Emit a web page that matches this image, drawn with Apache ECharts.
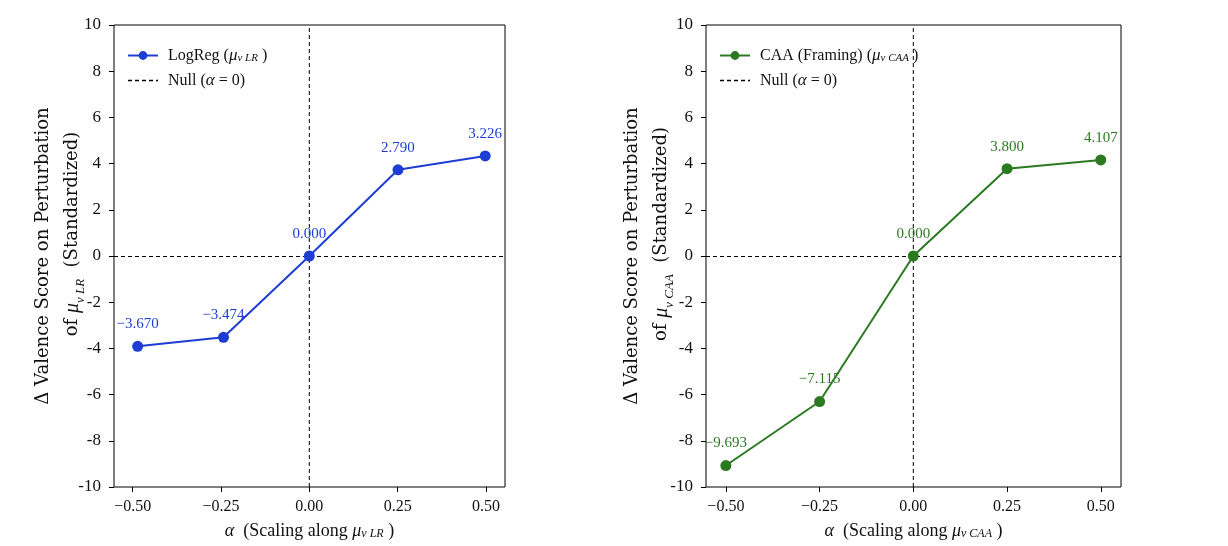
<!DOCTYPE html>
<html><head><meta charset="utf-8">
<script src="https://cdn.jsdelivr.net/npm/echarts@6/dist/echarts.min.js"></script>
<style>html,body{margin:0;padding:0;background:#fff}#c{width:1228px;height:546px}</style>
</head><body><div id="c"></div>
<script>
// ---- data ----
const alphaLR = [-0.486, -0.243, 0, 0.251, 0.498];
const valenceLR = [-3.91, -3.52, 0, 3.73, 4.33];
const labelsLR = ['\u22123.670', '\u22123.474', '0.000', '2.790', '3.226'];
const alphaCAA = [-0.5, -0.25, 0, 0.25, 0.5];
const valenceCAA = [-9.07, -6.30, 0, 3.78, 4.16];
const labelsCAA = ['\u22129.693', '\u22127.115', '0.000', '3.800', '4.107'];
const xTicks = [-0.5, -0.25, 0, 0.25, 0.5];
const yTicks = [-10, -8, -6, -4, -2, 0, 2, 4, 6, 8, 10];

const FONT = "'Liberation Serif', 'DejaVu Serif', serif";
const YFONT = "'DejaVu Serif', 'Liberation Serif', serif";
const BLUE = '#1d3dd3';
const GREEN = '#2b7a22';

const chart = echarts.init(document.getElementById('c'));

const xRich = {
  t: { fontFamily: FONT, fontSize: 18, color: '#111' },
  m: { fontFamily: FONT, fontSize: 18, fontStyle: 'italic', color: '#111' },
  s: { fontFamily: FONT, fontSize: 12, fontStyle: 'italic', color: '#111', verticalAlign: 'bottom', padding: [6, 0, 0, 0] }
};
const yRich = {
  t: { fontFamily: YFONT, fontSize: 18, color: '#111', lineHeight: 29 },
  m: { fontFamily: FONT, fontSize: 20, fontStyle: 'italic', color: '#111', lineHeight: 29 },
  s: { fontFamily: FONT, fontSize: 13, fontStyle: 'italic', color: '#111', verticalAlign: 'bottom', padding: [6, 0, 0, 0] },
  e: { width: 44, lineHeight: 29 }
};
const legendRich = {
  t: { fontFamily: FONT, fontSize: 16, color: '#111' },
  m: { fontFamily: FONT, fontSize: 17, fontStyle: 'italic', color: '#111' },
  s: { fontFamily: FONT, fontSize: 11, fontStyle: 'italic', color: '#111', verticalAlign: 'bottom', padding: [6, 0, 0, 0] }
};

function xAxisFor(idx, sub) {
  return {
    type: 'value', gridIndex: idx, min: -0.553, max: 0.554,
    axisLine: { show: false, onZero: false },
    splitLine: { show: false },
    axisTick: { show: true, length: 5, inside: false, customValues: xTicks, lineStyle: { color: '#000' } },
    axisLabel: {
      customValues: xTicks, margin: 12, color: '#111', fontFamily: FONT, fontSize: 16,
      formatter: v => (v < 0 ? '\u2212' : '') + Math.abs(v).toFixed(2)
    },
    name: '{m|\u03b1}{t|  (Scaling along }{m|\u03bc}{s|\u03bd ' + sub + '}{t| )}',
    nameLocation: 'middle', nameGap: 35,
    nameTextStyle: { rich: xRich }
  };
}
function yAxisFor(idx, sub, gap) {
  return {
    type: 'value', gridIndex: idx, min: -10, max: 10, interval: 2,
    axisLine: { show: false, onZero: false },
    splitLine: { show: false },
    axisTick: { show: true, length: 5, inside: false, lineStyle: { color: '#000' } },
    axisLabel: {
      margin: 13, color: '#111', fontFamily: FONT, fontSize: 17,
      formatter: v => String(v)
    },
    name: '{t|\u0394 Valence Score on Perturbation}\n{e|}{t|of }{m|\u03bc}{s|\u03bd ' + sub + '}{t|  (Standardized)}',
    nameLocation: 'middle', nameRotate: 90, nameGap: gap, nameMoveOverlap: false,
    nameTextStyle: { rich: yRich, align: 'center' }
  };
}
function dataSeries(name, xs, ys, labels, color, idx) {
  return {
    name: name, type: 'line', xAxisIndex: idx, yAxisIndex: idx, z: 5,
    data: xs.map((x, i) => [x, ys[i]]),
    symbol: 'circle', symbolSize: 11,
    lineStyle: { color: color, width: 2 },
    itemStyle: { color: color },
    label: {
      show: true, position: 'top', distance: 9, color: color, fontFamily: FONT, fontSize: 15,
      formatter: p => labels[p.dataIndex]
    }
  };
}
function nullSeries(name, idx) {
  return {
    name: name, type: 'line', xAxisIndex: idx, yAxisIndex: idx, z: 3,
    data: [[0, -10], [0, 10]], symbol: 'none', silent: true,
    lineStyle: { color: '#000', width: 1, type: [4, 3] },
    itemStyle: { color: '#000' },
    markLine: {
      silent: true, symbol: 'none', label: { show: false },
      lineStyle: { color: '#000', width: 1, type: [4, 3] },
      data: [{ yAxis: 0 }]
    }
  };
}
const legendNames = {
  'LogReg': '{t|LogReg (}{m|\u03bc}{s|\u03bd LR}{t| )}',
  'CAA': '{t|CAA (Framing) (}{m|\u03bc}{s|\u03bd CAA}{t| )}',
  'NullL': '{t|Null (}{m|\u03b1}{t| = 0)}',
  'NullR': '{t|Null (}{m|\u03b1}{t| = 0)}'
};
function legendFor(names, left) {
  return {
    data: [
      { name: names[0] },
      { name: names[1], itemStyle: { color: 'transparent', borderWidth: 0, opacity: 0 }, lineStyle: { color: '#000', width: 1.3, type: [4, 3], opacity: 1 } }
    ],
    left: left, top: 42, orient: 'vertical',
    itemWidth: 30, itemHeight: 11, itemGap: 8,
    textStyle: { rich: legendRich, padding: [0, 0, 0, 5] },
    formatter: n => legendNames[n],
    selectedMode: false
  };
}

chart.setOption({
  animation: false,
  backgroundColor: '#fff',
  grid: [
    { left: 114, right: 723, top: 25, bottom: 59, show: true, borderColor: '#000', borderWidth: 1, backgroundColor: 'transparent' },
    { left: 706, right: 107, top: 25, bottom: 59, show: true, borderColor: '#000', borderWidth: 1, backgroundColor: 'transparent' }
  ],
  xAxis: [xAxisFor(0, 'LR'), xAxisFor(1, 'CAA')],
  yAxis: [yAxisFor(0, 'LR', 27), yAxisFor(1, 'CAA', 30)],
  legend: [legendFor(['LogReg', 'NullL'], 122), legendFor(['CAA', 'NullR'], 714)],
  series: [
    nullSeries('NullL', 0),
    dataSeries('LogReg', alphaLR, valenceLR, labelsLR, BLUE, 0),
    nullSeries('NullR', 1),
    dataSeries('CAA', alphaCAA, valenceCAA, labelsCAA, GREEN, 1)
  ]
});
</script></body></html>
